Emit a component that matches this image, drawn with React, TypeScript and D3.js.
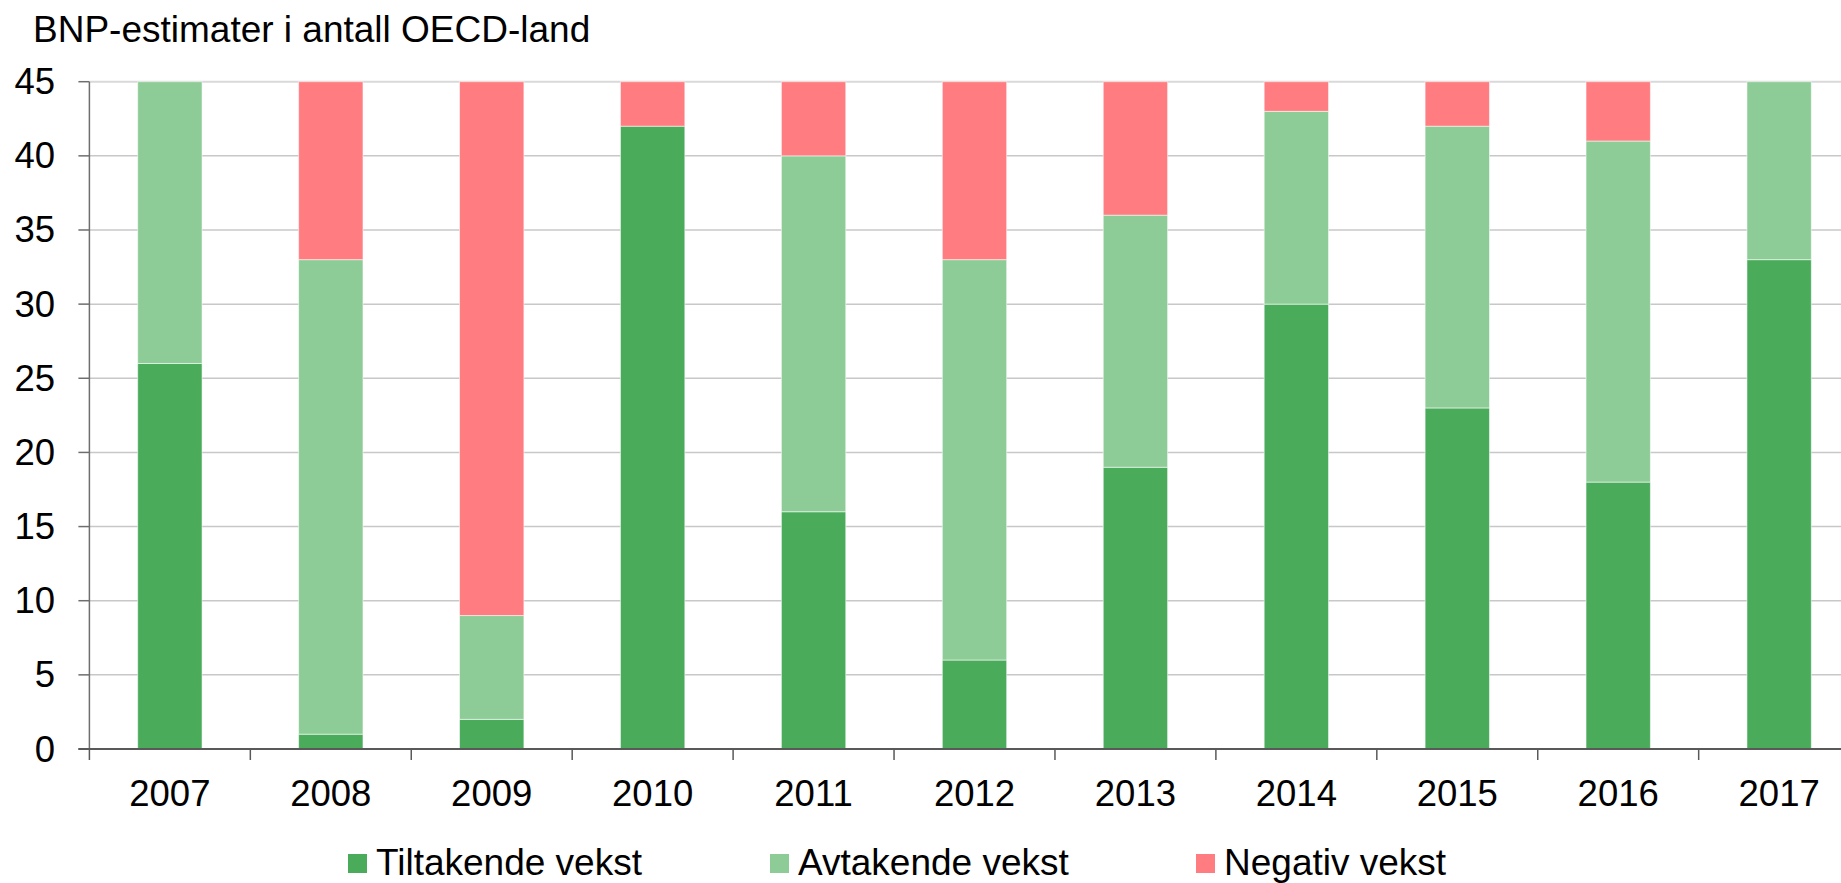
import React from "react";
import * as d3 from "d3";

const years = ["2007", "2008", "2009", "2010", "2011", "2012", "2013", "2014", "2015", "2016", "2017"];
const tiltakende = [26, 1, 2, 42, 16, 6, 19, 30, 23, 18, 33];
const avtakende = [19, 32, 7, 0, 24, 27, 17, 13, 19, 23, 12];
const negativ = [0, 12, 36, 3, 5, 12, 9, 2, 3, 4, 0];
const seriesNames = ["Tiltakende vekst", "Avtakende vekst", "Negativ vekst"];
const seriesColors = ["#4aab5b", "#8dcc96", "#ff7c81"];
const yTicks = [0, 5, 10, 15, 20, 25, 30, 35, 40, 45];
const title = "BNP-estimater i antall OECD-land";

const W = 1841;
const H = 883;
const FONT = "'Liberation Sans', Arial, sans-serif";

export default function App() {
  const x0 = 89.4;
  const x1 = 1859.6;
  const yTop = 81.7;
  const yBot = 749;

  const x = d3.scaleBand<string>().domain(years).range([x0, x1]).paddingInner(0.6).paddingOuter(0.3);
  const y = d3.scaleLinear().domain([0, 45]).range([yBot, yTop]);

  const rows = years.map((yr, i) => ({ year: yr, t: tiltakende[i], a: avtakende[i], n: negativ[i] }));
  const stack = d3.stack<any>().keys(["t", "a", "n"])(rows);

  const step = x.step();
  const boundaries = d3.range(years.length + 1).map((i) => x0 + i * step);

  const legendX = [348, 770, 1196];

  return (
    <svg width={W} height={H} style={{ position: "absolute", left: 0, top: 0, display: "block", background: "#fff" }} fontFamily={FONT}>
      <rect x={0} y={0} width={W} height={H} fill="#fff" />
      <text x={33} y={41.7} fontSize={37} fill="#000">{title}</text>

      {/* gridlines */}
      {yTicks.filter((t) => t > 0).map((t) => (
        <line key={t} x1={x0} x2={W} y1={y(t)} y2={y(t)} stroke={t === 45 ? "#d9d9d9" : "#c8c8c8"} strokeWidth={t === 45 ? 2 : 1.5} />
      ))}

      {/* bars */}
      {stack.map((layer, si) => (
        <g key={si} fill={seriesColors[si]}>
          {layer.map((d, i) => {
            const h = y(d[0]) - y(d[1]);
            if (h <= 0) return null;
            return (
              <rect key={i} x={x(years[i])!} y={y(d[1])} width={x.bandwidth()} height={h} stroke="rgba(255,255,255,0.55)" strokeWidth={1} />
            );
          })}
        </g>
      ))}

      {/* y axis */}
      <line x1={x0} x2={x0} y1={yTop} y2={yBot} stroke="#6e6e6e" strokeWidth={1.5} />
      {yTicks.map((t) => (
        <g key={t}>
          <line x1={x0 - 11} x2={x0} y1={y(t)} y2={y(t)} stroke="#6e6e6e" strokeWidth={1.5} />
          <text x={55} y={y(t)} textAnchor="end" dominantBaseline="central" fontSize={36.5} fill="#000">{t}</text>
        </g>
      ))}

      {/* x axis */}
      <line x1={x0 - 11} x2={W} y1={yBot} y2={yBot} stroke="#595959" strokeWidth={2} />
      {boundaries.map((b, i) => (
        <line key={i} x1={b} x2={b} y1={yBot} y2={yBot + 11} stroke="#595959" strokeWidth={1.5} />
      ))}
      {years.map((yr) => (
        <text key={yr} x={x(yr)! + x.bandwidth() / 2} y={806} textAnchor="middle" fontSize={36.5} fill="#000">{yr}</text>
      ))}

      {/* legend */}
      {seriesNames.map((name, i) => (
        <g key={name}>
          <rect x={legendX[i]} y={854} width={19} height={19} fill={seriesColors[i]} />
          <text x={legendX[i] + 28} y={875} fontSize={37} fill="#000">{name}</text>
        </g>
      ))}
    </svg>
  );
}
